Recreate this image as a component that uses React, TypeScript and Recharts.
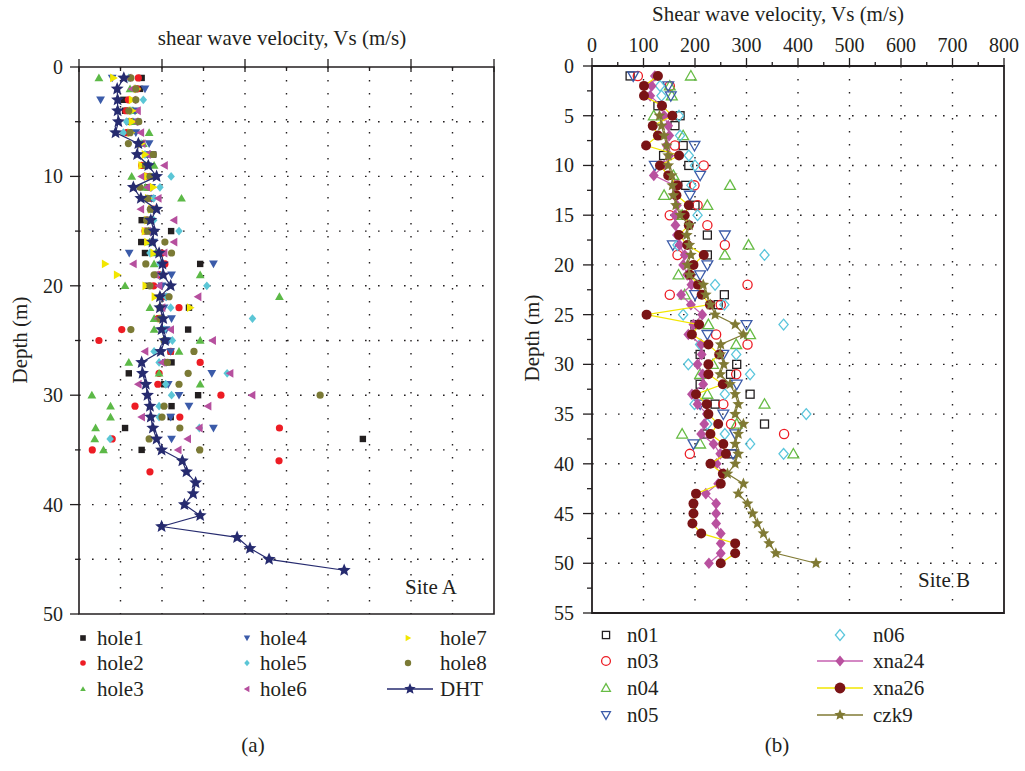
import React from 'react';
import { CartesianGrid, ReferenceArea, Scatter, ScatterChart, XAxis, YAxis } from 'recharts';

const INK = '#231f20';
const FONT = '"Liberation Serif", "Times New Roman", serif';
const FS = 21;
const FS_TICK = 20;

// ---------- Site A (left): depth in m, Vs in m/s (axis unlabelled, read as 0..1000)
const DEPTH_A = [
  1, 2, 3, 4, 5, 6, 7, 8, 9, 10, 11, 12, 13, 14, 15, 16, 17, 18, 19, 20, 21, 22, 23,
  24, 25, 26, 27, 28, 29, 30, 31, 32, 33, 34, 35, 36, 37, 38, 39, 40, 41, 42, 43, 44, 45, 46,
];
const HOLE1 = [151, 147, 107, 111, 120, 120, 150, 179, 155, 175, 165, 170, 175, 151, 222, 150, 159, 292, 190, 165, 200, 265, 195, 263, 210, 221, 223, 120, 205, 287, 223, 221, 111, 684, 151];
const HOLE2 = [143, 140, 119, 113, 125, 115, 148, 160, 151, 161, 169, 175, 180, 165, 159, 175, 200, 207, 195, 180, 205, 241, 190, 103, 48, 221, 292, 193, 190, 342, 135, 243, 483, 80, 32, 482, 171];
const HOLE3 = [48, 123, null, 130, 130, 169, 155, 170, 181, 127, 160, 247, 175, 170, 168, 170, 185, 181, 292, 111, 483, 171, 181, 181, 292, 241, 120, 193, 292, 31, 76, 76, 40, 38, 59];
const HOLE4 = [80, 159, 52, 135, 140, 137, 169, 165, 165, 180, 175, 175, 180, 165, 170, 180, 121, 324, 223, 200, 210, 205, 223, 210, 215, 221, 210, 320, 215, 241, 265, 221, 324, 223];
const HOLE5 = [120, 135, 155, 125, 115, 107, 150, 159, 160, 222, 195, 180, 172, 180, 241, 175, 171, 195, 200, 308, 210, 221, 418, 205, 225, 181, 193, 357, 209, 223, 193, 193, 290, 75];
const HOLE6 = [118, 128, 130, 141, 135, 149, 152, 165, 206, 151, 165, 191, 149, 229, 165, 229, 205, 131, 185, 193, 287, 200, 190, 221, 322, 159, 200, 364, 143, 417, 311, 151, 290, 262, 239];
const HOLE7 = [83, 140, 128, 128, 128, 125, 150, 159, 151, 165, 179, 167, 175, 165, 159, 165, 180, 63, 92, 161, 183, 268, 200];
const HOLE8 = [125, 137, 137, 120, 144, 123, 119, 179, 160, 171, 147, 165, 172, 163, 165, 207, 223, 161, 181, 171, 217, 195, 195, 125, 205, 277, 213, 263, 241, 581, 205, 200, 243, 169, 291];
const DHT = [108, 92, 93, 93, 95, 88, 143, 140, 167, 187, 131, 149, 187, 173, 181, 177, 193, 201, 203, 221, 195, 195, 203, 199, 207, 197, 151, 153, 161, 165, 171, 173, 178, 187, 199, 249, 259, 281, 275, 254, 292, 199, 381, 412, 458, 639];

// ---------- Site B (right)
const N01_D = [1, 4, 5, 6, 8, 9, 10, 12, 14, 17, 19, 23, 24, 26, 29, 30, 31, 32, 33, 34, 36, 37, 39];
const N01_V = [74, 128, 171, 161, 177, 139, 188, 182, 200, 224, 224, 257, 245, 200, 210, 281, 269, 210, 307, 239, 335, 220, 272];
const N03_D = [1, 2, 8, 10, 12, 14, 15, 16, 18, 19, 22, 23, 24, 27, 28, 31, 34, 36, 37, 39];
const N03_V = [89, 151, 161, 217, 199, 205, 151, 224, 258, 166, 302, 151, 250, 241, 302, 280, 255, 270, 373, 190];
const N04_D = [1, 2, 3, 5, 7, 11, 12, 13, 14, 15, 18, 19, 21, 23, 26, 27, 28, 30, 31, 33, 34, 36, 37, 38, 39];
const N04_V = [192, 151, 155, 120, 177, 158, 268, 140, 224, 175, 304, 258, 168, 180, 226, 307, 280, 235, 210, 224, 335, 281, 175, 210, 391];
const N05_D = [1, 2, 3, 8, 10, 11, 13, 17, 18, 20, 21, 23, 26, 27, 29, 32, 34, 35, 37, 38, 39];
const N05_V = [80, 148, 153, 199, 122, 210, 190, 258, 157, 224, 210, 200, 300, 224, 255, 281, 210, 255, 278, 197, 274];
const N06_D = [2, 3, 5, 7, 9, 10, 12, 15, 18, 19, 22, 24, 25, 26, 28, 29, 30, 31, 33, 34, 35, 36, 37, 38, 39];
const N06_V = [132, 135, 169, 171, 188, 200, 193, 205, 166, 335, 239, 257, 177, 372, 210, 280, 187, 307, 258, 199, 416, 224, 258, 307, 372];

const DEPTH_B = [
  1, 2, 3, 4, 5, 6, 7, 8, 9, 10, 11, 12, 13, 14, 15, 16, 17, 18, 19, 20, 21, 22, 23, 24, 25,
  26, 27, 28, 29, 30, 31, 32, 33, 34, 35, 36, 37, 38, 39, 40, 41, 42, 43, 44, 45, 46, 47, 48, 49, 50,
];
const XNA24 = [122, 116, 113, 135, 140, 148, 150, 145, 150, 140, 120, 160, 160, 165, 161, 162, 165, 170, 180, 177, 185, 193, 173, 192, 214, 197, 187, 212, 213, 205, 215, 216, 194, 205, 223, 218, 212, 236, 249, 242, 256, 245, 221, 241, 241, 241, 250, 250, 250, 227];
const XNA26 = [128, 101, 101, 136, 156, 118, 128, 105, 169, 132, 148, 166, 164, 188, 180, 188, 169, 185, 217, 197, 190, 206, 213, 229, 106, 208, 194, 226, 247, 226, 226, 254, 202, 223, 226, 245, 230, 255, 260, 230, 254, 250, 202, 197, 197, 195, 212, 278, 278, 250];
const CZK9 = [null, null, null, null, 131, 135, 140, 145, 148, 148, 155, 156, 158, 163, 171, 189, 184, 189, 192, 185, 189, 216, 221, 230, 239, 278, 294, 250, 249, 256, 249, 268, 278, 284, 278, 294, 284, 278, 284, 278, 263, 294, 284, 302, 312, 321, 333, 344, 357, 435];

// axis ticks / grid
const A_XTICKS = [0, 100, 200, 300, 400, 500, 600, 700, 800, 900, 1000];
const A_YTICKS = [0, 5, 10, 15, 20, 25, 30, 35, 40, 45, 50];
const A_GRIDX = [100, 200, 300, 400, 500, 600, 700, 800, 900];
const A_GRIDY = [5, 10, 15, 20, 25, 30, 35, 40, 45];
const B_XTICKS = [0, 50, 100, 150, 200, 250, 300, 350, 400, 450, 500, 550, 600, 650, 700, 750, 800];
const B_YTICKS = [0, 2.5, 5, 7.5, 10, 12.5, 15, 17.5, 20, 22.5, 25, 27.5, 30, 32.5, 35, 37.5, 40, 42.5, 45, 47.5, 50, 52.5, 55];
const B_GRIDX = [100, 200, 300, 400, 500, 600, 700];
const B_GRIDY = [5, 10, 15, 20, 25, 30, 35, 40, 45, 50];

type Kind = 'square' | 'circle' | 'up' | 'down' | 'left' | 'right' | 'diamond' | 'star';

function pts(depths: number[], values: (number | null)[]) {
  const out: { v: number; d: number }[] = [];
  values.forEach((v, i) => {
    if (v != null) out.push({ v, d: depths[i] });
  });
  return out;
}

function Mark({ kind, x, y, s, color, open }: { kind: Kind; x: number; y: number; s: number; color: string; open?: boolean }) {
  const st = { fill: open ? 'none' : color, stroke: open ? color : 'none', strokeWidth: open ? 1.3 : 0 };
  const poly = (p: number[][]) => <polygon points={p.map((q) => q.join(',')).join(' ')} {...st} />;
  switch (kind) {
    case 'square':
      return <rect x={x - s} y={y - s} width={2 * s} height={2 * s} {...st} />;
    case 'circle':
      return <circle cx={x} cy={y} r={s} {...st} />;
    case 'diamond':
      return poly([[x, y - s], [x + s * 0.85, y], [x, y + s], [x - s * 0.85, y]]);
    case 'up':
      return poly([[x, y - s], [x + s, y + s * 0.75], [x - s, y + s * 0.75]]);
    case 'down':
      return poly([[x, y + s], [x + s, y - s * 0.75], [x - s, y - s * 0.75]]);
    case 'left':
      return poly([[x - s, y], [x + s * 0.75, y - s], [x + s * 0.75, y + s]]);
    case 'right':
      return poly([[x + s, y], [x - s * 0.75, y - s], [x - s * 0.75, y + s]]);
    case 'star': {
      const p: number[][] = [];
      for (let k = 0; k < 10; k++) {
        const r = k % 2 === 0 ? s : s * 0.45;
        const a = -Math.PI / 2 + (k * Math.PI) / 5;
        p.push([x + r * Math.cos(a), y + r * Math.sin(a)]);
      }
      return poly(p);
    }
  }
  return null;
}

type Series = { name: string; data: { v: number; d: number }[]; kind: Kind; color: string; s: number; open?: boolean; line?: string };

const A_SERIES: Series[] = [
  { name: 'hole1', data: pts(DEPTH_A, HOLE1), kind: 'square', color: '#231f20', s: 3.2 },
  { name: 'hole2', data: pts(DEPTH_A, HOLE2), kind: 'circle', color: '#ed1c24', s: 3.6 },
  { name: 'hole3', data: pts(DEPTH_A, HOLE3), kind: 'up', color: '#5cb947', s: 4.4 },
  { name: 'hole4', data: pts(DEPTH_A, HOLE4), kind: 'down', color: '#3b5ba9', s: 4.4 },
  { name: 'hole5', data: pts(DEPTH_A, HOLE5), kind: 'diamond', color: '#5bc6d6', s: 4.4 },
  { name: 'hole6', data: pts(DEPTH_A, HOLE6), kind: 'left', color: '#b64f9e', s: 4.4 },
  { name: 'hole7', data: pts(DEPTH_A, HOLE7), kind: 'right', color: '#f2e600', s: 4.4 },
  { name: 'hole8', data: pts(DEPTH_A, HOLE8), kind: 'circle', color: '#7b7a35', s: 3.6 },
  { name: 'DHT', data: pts(DEPTH_A, DHT), kind: 'star', color: '#262b6f', s: 6.8, line: '#262b6f' },
];

const B_SERIES: Series[] = [
  { name: 'n01', data: pts(N01_D, N01_V), kind: 'square', color: '#231f20', s: 4, open: true },
  { name: 'n03', data: pts(N03_D, N03_V), kind: 'circle', color: '#ed1c24', s: 4.6, open: true },
  { name: 'n04', data: pts(N04_D, N04_V), kind: 'up', color: '#67bc45', s: 5.4, open: true },
  { name: 'n05', data: pts(N05_D, N05_V), kind: 'down', color: '#3b5ba9', s: 5.4, open: true },
  { name: 'n06', data: pts(N06_D, N06_V), kind: 'diamond', color: '#5bc6dc', s: 5.4, open: true },
  { name: 'xna24', data: pts(DEPTH_B, XNA24), kind: 'diamond', color: '#b9519f', s: 5.8, line: '#c661b0' },
  { name: 'xna26', data: pts(DEPTH_B, XNA26), kind: 'circle', color: '#7a1416', s: 5, line: '#f2e600' },
  { name: 'czk9', data: pts(DEPTH_B, CZK9), kind: 'star', color: '#807a34', s: 6.2, line: '#807a34' },
];

function renderSeries(list: Series[]) {
  return list.map((sr) => (
    <Scatter
      key={sr.name}
      name={sr.name}
      data={sr.data}
      fill={sr.color}
      isAnimationActive={false}
      line={sr.line ? { stroke: sr.line, strokeWidth: 1.2 } : false}
      lineType="joint"
      shape={(p: any) => <Mark kind={sr.kind} x={p.cx} y={p.cy} s={sr.s} color={sr.color} open={sr.open} />}
    />
  ));
}

const txt = { fontFamily: FONT, fontSize: FS, fill: INK };
const tickTxt = { fontFamily: FONT, fontSize: FS_TICK, fill: INK };

function TickAX(p: any) {
  const major = p.payload.value % 200 === 0;
  return <line x1={p.x} x2={p.x} y1={major ? p.y - 8 : p.y} y2={major ? p.y + 5 : p.y + 4} stroke={INK} strokeWidth={1.3} />;
}
function TickAY(p: any) {
  const v = p.payload.value;
  const major = v % 10 === 0;
  return (
    <g>
      <line x1={p.x - (major ? 9 : 4)} x2={p.x} y1={p.y} y2={p.y} stroke={INK} strokeWidth={1.3} />
      {major && (
        <text x={p.x - 16} y={p.y} textAnchor="end" dominantBaseline="central" {...tickTxt}>
          {v}
        </text>
      )}
    </g>
  );
}
function TickBX(p: any) {
  const v = p.payload.value;
  const major = v % 100 === 0;
  return (
    <g>
      <line x1={p.x} x2={p.x} y1={p.y - (major ? 8 : 4)} y2={p.y} stroke={INK} strokeWidth={1.3} />
      {major && (
        <text x={p.x} y={p.y - 21} textAnchor="middle" dominantBaseline="central" {...tickTxt}>
          {v}
        </text>
      )}
    </g>
  );
}
function TickBY(p: any) {
  const v = p.payload.value;
  const major = v % 5 === 0;
  return (
    <g>
      <line x1={p.x - (major ? 9 : 5)} x2={p.x} y1={p.y} y2={p.y} stroke={INK} strokeWidth={1.3} />
      {major && (
        <text x={p.x - 18} y={p.y} textAnchor="end" dominantBaseline="central" {...tickTxt}>
          {v}
        </text>
      )}
    </g>
  );
}

const grid = { stroke: INK, strokeDasharray: '1.6 11.4', strokeWidth: 1.4 };

function LegendItem({ sr, mx, tx, y, ms, lineFrom, lineTo }: { sr: Series; mx: number; tx: number; y: number; ms: number; lineFrom?: number; lineTo?: number }) {
  return (
    <g>
      {lineFrom != null && sr.line && <line x1={lineFrom} x2={lineTo} y1={y} y2={y} stroke={sr.line} strokeWidth={1.5} />}
      <Mark kind={sr.kind} x={mx} y={y} s={ms} color={sr.color} open={sr.open} />
      <text x={tx} y={y} dominantBaseline="central" {...txt}>
        {sr.name}
      </text>
    </g>
  );
}

export default function App() {
  const [h1, h2, h3, h4, h5, h6, h7, h8, dht] = A_SERIES;
  const [n01, n03, n04, n05, n06, x24, x26, czk] = B_SERIES;
  const rowsA = [638, 663, 689];
  const rowsB = [635, 661, 688, 715];
  return (
    <div style={{ position: 'absolute', left: 0, top: 0, width: 1025, height: 771, background: '#fff', fontFamily: FONT }}>
      <div style={{ position: 'absolute', left: 0, top: 0 }}>
        <ScatterChart width={510} height={630} margin={{ top: 47, right: 16, bottom: 16, left: 39 }}>
          <CartesianGrid {...grid} verticalValues={A_GRIDX} horizontalValues={A_GRIDY} />
          <XAxis type="number" dataKey="v" orientation="top" domain={[0, 1000]} ticks={A_XTICKS} interval={0} height={20} axisLine={false} tickLine={false} tickSize={0} tickMargin={0} tick={TickAX} />
          <YAxis type="number" dataKey="d" reversed domain={[0, 50]} ticks={A_YTICKS} interval={0} width={40} axisLine={false} tickLine={false} tickSize={0} tickMargin={0} tick={TickAY} />
          {renderSeries(A_SERIES)}
          <ReferenceArea x1={0} x2={1000} y1={0} y2={50} fill="none" stroke={INK} strokeWidth={1.6} />
        </ScatterChart>
      </div>
      <div style={{ position: 'absolute', left: 515, top: 0 }}>
        <ScatterChart width={510} height={630} margin={{ top: 26, right: 21, bottom: 17, left: 37 }}>
          <CartesianGrid {...grid} verticalValues={B_GRIDX} horizontalValues={B_GRIDY} />
          <XAxis type="number" dataKey="v" orientation="top" domain={[0, 800]} ticks={B_XTICKS} interval={0} height={40} axisLine={false} tickLine={false} tickSize={0} tickMargin={0} tick={TickBX} />
          <YAxis type="number" dataKey="d" reversed domain={[0, 55]} ticks={B_YTICKS} interval={0} width={40} axisLine={false} tickLine={false} tickSize={0} tickMargin={0} tick={TickBY} />
          {renderSeries(B_SERIES)}
          <ReferenceArea x1={0} x2={800} y1={0} y2={55} fill="none" stroke={INK} strokeWidth={1.8} />
        </ScatterChart>
      </div>
      <svg width={1025} height={771} style={{ position: 'absolute', left: 0, top: 0, pointerEvents: 'none' }}>
        <text x={282} y={38} textAnchor="middle" dominantBaseline="central" {...txt}>shear wave velocity, Vs (m/s)</text>
        <text x={778} y={14} textAnchor="middle" dominantBaseline="central" {...txt}>Shear wave velocity, Vs (m/s)</text>
        <text x={20} y={340} textAnchor="middle" dominantBaseline="central" transform="rotate(-90 20 340)" {...txt}>Depth (m)</text>
        <text x={532} y={338} textAnchor="middle" dominantBaseline="central" transform="rotate(-90 532 338)" {...txt}>Depth (m)</text>
        <text x={457} y={587} textAnchor="end" dominantBaseline="central" {...txt}>Site A</text>
        <text x={970} y={580} textAnchor="end" dominantBaseline="central" {...txt}>Site B</text>

        {[h1, h2, h3].map((sr, i) => <LegendItem key={sr.name} sr={sr} mx={83} tx={97} y={rowsA[i]} ms={2.8} />)}
        {[h4, h5, h6].map((sr, i) => <LegendItem key={sr.name} sr={sr} mx={247} tx={260} y={rowsA[i]} ms={3.2} />)}
        {[h7, h8].map((sr, i) => <LegendItem key={sr.name} sr={sr} mx={408} tx={440} y={rowsA[i]} ms={3.2} />)}
        <LegendItem sr={dht} mx={410} tx={440} y={rowsA[2]} ms={6} lineFrom={387} lineTo={433} />

        {[n01, n03, n04, n05].map((sr, i) => <LegendItem key={sr.name} sr={sr} mx={606} tx={627} y={rowsB[i]} ms={sr.kind === 'square' ? 3.6 : 4.4} />)}
        {[n06, x24, x26, czk].map((sr, i) => (
          <LegendItem key={sr.name} sr={sr} mx={840} tx={873} y={rowsB[i]} ms={sr.kind === 'star' ? 6 : 5.4} lineFrom={817} lineTo={863} />
        ))}

        <text x={253} y={745} textAnchor="middle" dominantBaseline="central" {...txt}>(a)</text>
        <text x={777} y={745} textAnchor="middle" dominantBaseline="central" {...txt}>(b)</text>
      </svg>
    </div>
  );
}
